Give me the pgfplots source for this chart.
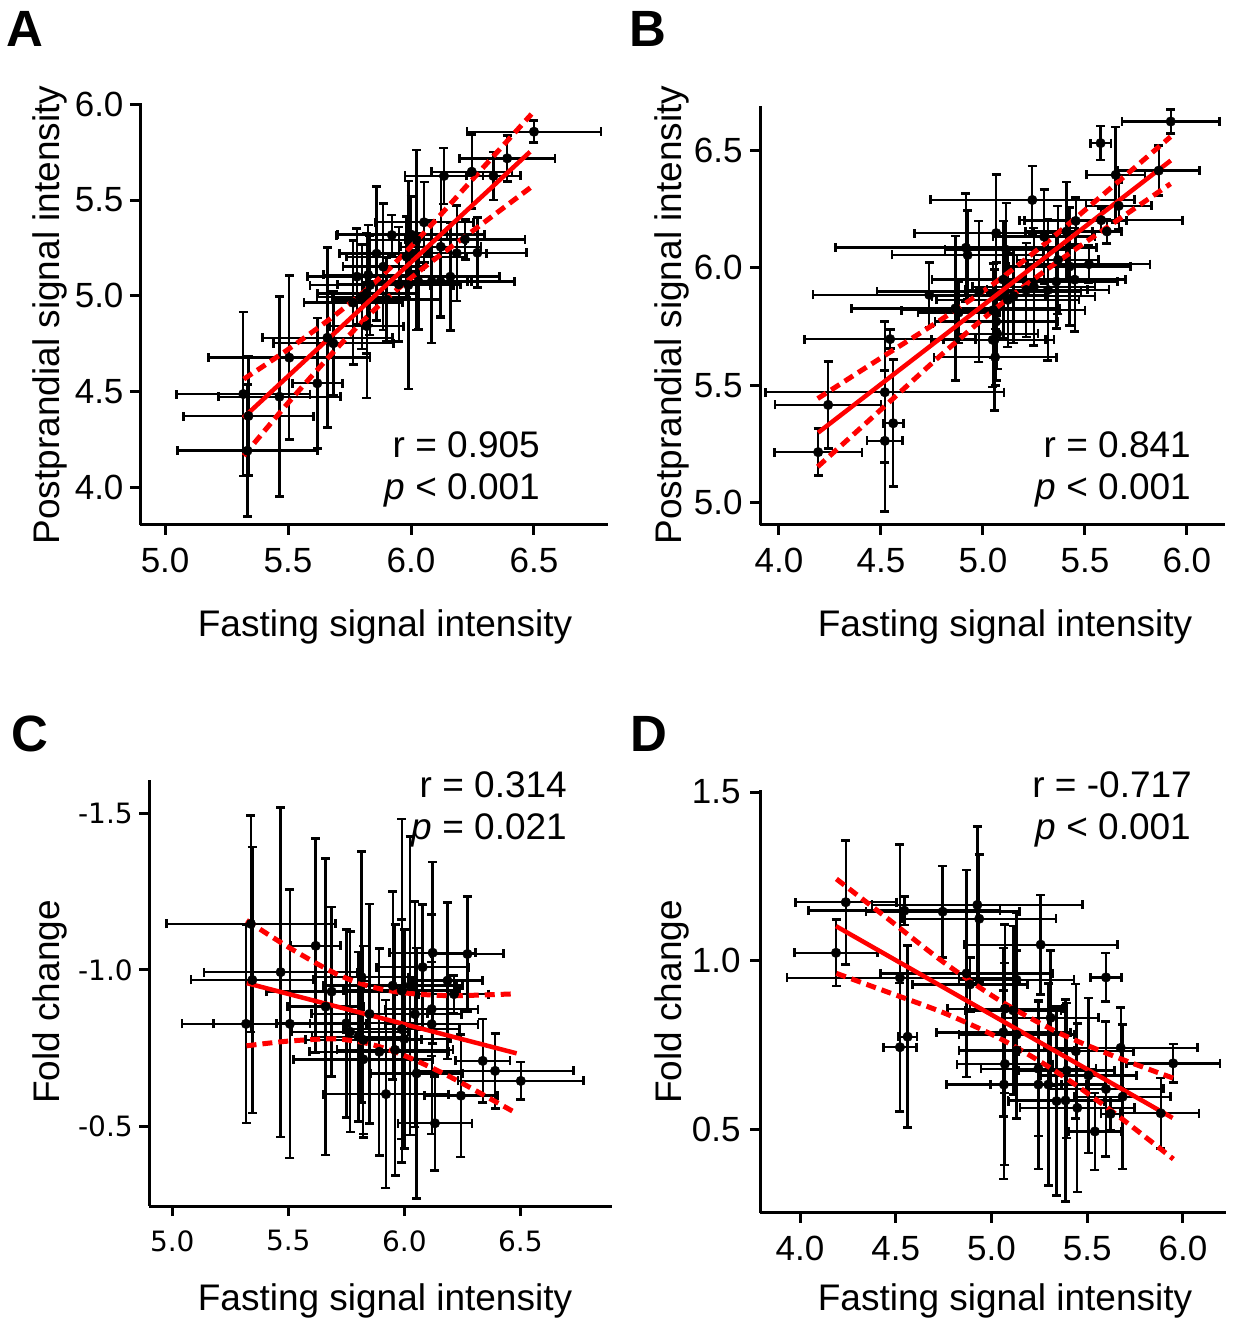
\documentclass[border=0pt]{standalone}
\usepackage{fontspec}
\setmainfont{Liberation Sans}
\newfontfamily\dejavu{DejaVu Sans}
\usepackage{pgfplots}
\usepackage{pgfplotstable}
\pgfplotsset{compat=1.18}

% panel A: fasting vs postprandial
\pgfplotstableread{
x y ex ey
5.318 4.487 0.272 0.428
5.465 4.473 0.248 0.522
5.339 4.372 0.264 0.310
5.335 4.191 0.285 0.345
5.505 4.677 0.329 0.428
5.619 4.543 0.102 0.340
5.660 4.781 0.264 0.470
5.684 4.752 0.244 0.272
5.765 4.964 0.200 0.324
5.800 4.995 0.183 0.272
5.820 5.013 0.200 0.313
5.826 5.109 0.183 0.261
5.820 4.842 0.150 0.376
6.500 5.857 0.272 0.057
6.391 5.718 0.195 0.120
6.247 5.648 0.163 0.193
6.335 5.626 0.110 0.125
6.134 5.626 0.159 0.146
6.053 5.384 0.200 0.210
5.922 5.317 0.224 0.104
6.023 5.291 0.200 0.470
6.121 5.256 0.163 0.370
6.220 5.295 0.244 0.104
6.186 5.222 0.122 0.250
6.270 5.225 0.200 0.183
5.887 5.152 0.163 0.330
5.982 5.204 0.244 0.210
6.030 5.074 0.200 0.250
6.084 5.074 0.163 0.320
6.120 5.074 0.300 0.180
5.989 5.056 0.183 0.543
5.833 5.056 0.244 0.260
5.950 5.060 0.250 0.300
5.780 5.100 0.200 0.250
5.900 4.980 0.220 0.220
6.000 5.320 0.300 0.200
5.860 5.220 0.150 0.350
6.160 5.100 0.200 0.280
}\dataA

% panel B
\pgfplotstableread{
x y ex ey
4.192 5.216 0.215 0.100
4.241 5.417 0.260 0.185
4.519 5.471 0.585 0.300
4.519 5.264 0.087 0.300
4.560 5.339 0.050 0.270
4.545 5.697 0.420 0.040
4.737 5.885 0.570 0.137
4.865 5.828 0.510 0.307
4.881 5.810 0.200 0.130
4.917 6.086 0.640 0.230
4.925 6.055 0.370 0.190
5.048 5.694 0.300 0.200
5.921 6.623 0.240 0.050
5.577 6.531 0.050 0.072
5.862 6.414 0.200 0.107
5.651 6.396 0.143 0.204
5.666 6.264 0.160 0.100
5.242 6.289 0.500 0.145
5.580 6.203 0.400 0.050
5.455 6.200 0.250 0.100
5.608 6.155 0.070 0.050
5.410 6.155 0.200 0.210
5.300 6.133 0.250 0.200
5.520 6.016 0.300 0.080
5.425 6.006 0.300 0.250
5.368 6.034 0.200 0.230
5.360 5.942 0.300 0.200
5.319 5.906 0.300 0.300
5.212 5.906 0.300 0.200
5.122 5.864 0.350 0.200
5.065 5.772 0.300 0.250
5.057 5.694 0.250 0.300
5.114 6.077 0.300 0.200
5.065 6.148 0.400 0.250
5.060 5.620 0.300 0.120
5.070 5.720 0.200 0.150
5.050 5.820 0.450 0.200
5.100 5.950 0.350 0.250
5.150 5.880 0.400 0.200
5.250 5.920 0.300 0.250
4.980 5.900 0.500 0.300
5.450 5.950 0.250 0.220
}\dataB

% panel C (fold change, axis reversed)
\pgfplotstableread{
x y ex ey
5.339 -1.147 0.364 0.345
5.345 -0.968 0.264 0.424
5.318 -0.828 0.276 0.316
5.467 -0.993 0.330 0.526
5.507 -0.828 0.330 0.428
5.618 -1.077 0.108 0.342
5.687 -0.931 0.280 0.270
5.661 -0.883 0.165 0.473
5.816 -0.977 0.200 0.400
5.766 -0.803 0.250 0.320
5.802 -0.787 0.200 0.270
5.823 -0.777 0.250 0.300
5.823 -0.715 0.300 0.250
5.892 -0.739 0.300 0.330
5.921 -0.604 0.270 0.300
6.122 -1.055 0.185 0.290
6.272 -1.051 0.155 0.183
6.079 -1.009 0.200 0.200
6.186 -0.966 0.150 0.250
6.214 -0.923 0.150 0.060
6.025 -0.949 0.200 0.476
5.989 -0.934 0.250 0.548
6.118 -0.875 0.200 0.150
6.046 -0.859 0.200 0.360
6.118 -0.827 0.200 0.350
5.989 -0.811 0.250 0.350
5.960 -0.745 0.250 0.400
6.338 -0.710 0.117 0.133
6.391 -0.678 0.337 0.120
6.502 -0.646 0.270 0.060
6.053 -0.670 0.200 0.400
6.244 -0.599 0.158 0.196
6.132 -0.511 0.160 0.150
5.750 -0.830 0.300 0.300
5.850 -0.860 0.250 0.350
5.950 -0.950 0.300 0.300
6.000 -0.780 0.200 0.350
}\dataC

% panel D
\pgfplotstableread{
x y ex ey
4.239 1.173 0.264 0.184
4.188 1.023 0.217 0.098
4.545 1.148 0.500 0.042
4.522 0.949 0.590 0.395
4.562 0.774 0.048 0.270
4.522 0.743 0.085 0.190
4.745 1.145 0.400 0.136
4.926 1.165 0.550 0.233
4.936 1.124 0.400 0.190
4.870 0.962 0.450 0.307
4.888 0.929 0.300 0.080
5.257 1.047 0.400 0.147
5.598 0.950 0.080 0.072
5.131 0.943 0.300 0.200
5.070 0.857 0.300 0.250
5.114 0.852 0.250 0.250
5.309 0.830 0.250 0.200
5.675 0.741 0.400 0.120
5.949 0.695 0.245 0.057
5.506 0.659 0.250 0.230
5.598 0.619 0.300 0.200
5.685 0.596 0.250 0.214
5.884 0.547 0.200 0.105
5.622 0.545 0.050 0.050
5.540 0.493 0.138 0.114
5.448 0.563 0.300 0.250
5.387 0.585 0.300 0.300
5.340 0.583 0.250 0.280
5.297 0.632 0.300 0.300
5.245 0.632 0.250 0.250
5.245 0.679 0.300 0.200
5.441 0.731 0.300 0.200
5.393 0.674 0.250 0.200
5.065 0.632 0.300 0.280
5.062 0.787 0.350 0.250
5.131 0.733 0.300 0.200
5.070 0.693 0.250 0.300
5.131 0.780 0.300 0.250
}\dataD

\pgfplotsset{
  panel/.style={
    scale only axis, anchor=south west,
    axis x line*=bottom, axis y line*=left,
    axis line style={line width=3pt, -},
    tick align=outside, major tick length=10pt,
    tick style={line width=3pt, black},
    ticklabel style={font=\fontsize{35}{40}\selectfont},
    xticklabel style={yshift=-10pt},
    yticklabel style={xshift=-6pt},
  },
  pts/.style={only marks, black, mark=*, mark size=4.8pt,
    mark options={fill=black, draw=black},
    error bars/.cd, x dir=both, x explicit, y dir=both, y explicit,
    error bar style={line width=2.4pt, black},
    error mark options={rotate=90, line width=2.6pt, mark size=4.5pt, black}},
  fit/.style={red, line width=4.5pt, no marks},
  band/.style={red, line width=5pt, dash pattern=on 10pt off 6pt, no marks, smooth},
}

\begin{document}
\begin{tikzpicture}[x=1pt, y=1pt]
\useasboundingbox (0,0) rectangle (1235,1322);

% ---------- A ----------
\begin{axis}[panel, at={(140pt,797pt)}, width=468pt, height=422pt,
  xmin=4.898, xmax=6.801, ymin=3.803, ymax=6.007,
  xtick={5,5.5,6,6.5}, xticklabels={5.0,5.5,6.0,6.5},
  ytick={4,4.5,5,5.5,6}, yticklabels={4.0,4.5,5.0,5.5,6.0},
  yticklabel style={xshift=3pt}]
\addplot[pts] table[x=x, y=y, x error=ex, y error=ey] {\dataA};
\addplot[fit] coordinates {(5.318,4.363) (6.484,5.752)};
\addplot[band] coordinates {(5.32,4.565)(5.5,4.72)(5.7,4.908)(5.87,5.09)(6.05,5.325)(6.25,5.608)(6.49,5.949)};
\addplot[band] coordinates {(5.32,4.165)(5.5,4.44)(5.7,4.728)(5.87,4.95)(6.05,5.145)(6.25,5.338)(6.49,5.569)};
\end{axis}

% ---------- B ----------
\begin{axis}[panel, at={(760pt,797pt)}, width=465pt, height=419pt,
  xmin=3.907, xmax=6.187, ymin=4.906, ymax=6.689,
  xtick={4,4.5,5,5.5,6}, xticklabels={4.0,4.5,5.0,5.5,6.0},
  ytick={5,5.5,6,6.5}, yticklabels={5.0,5.5,6.0,6.5},
  yticklabel style={xshift=2pt}]
\addplot[pts] table[x=x, y=y, x error=ex, y error=ey] {\dataB};
\addplot[fit] coordinates {(4.192,5.299) (5.921,6.457)};
\addplot[band] coordinates {(4.19,5.444)(4.5,5.617)(4.8,5.783)(5.08,5.95)(5.35,6.136)(5.65,6.357)(5.92,6.558)};
\addplot[band] coordinates {(4.19,5.154)(4.5,5.397)(4.8,5.633)(5.08,5.84)(5.35,6.016)(5.65,6.197)(5.92,6.358)};
\end{axis}

% ---------- C ----------
\begin{axis}[panel, at={(149.3pt,116pt)}, width=462.7pt, height=426pt,
  y dir=reverse,
  xmin=4.901, xmax=6.895, ymin=-1.606, ymax=-0.247,
  xtick={5,5.5,6,6.5}, xticklabels={5.0,5.5,6.0,6.5},
  ytick={-1.5,-1,-0.5}, yticklabels={-1.5,-1.0,-0.5},
  ticklabel style={font=\dejavu\fontsize{28}{34}\selectfont},
  xticklabel style={yshift=-1pt}, yticklabel style={xshift=3pt}]
\addplot[pts] table[x=x, y=y, x error=ex, y error=ey] {\dataC};
\addplot[fit] coordinates {(5.321,-0.958) (6.484,-0.734)};
\addplot[band] coordinates {(5.32,-1.158)(5.5,-1.073)(5.7,-0.99)(5.85,-0.948)(6.0,-0.927)(6.2,-0.918)(6.48,-0.924)};
\addplot[band] coordinates {(5.32,-0.758)(5.5,-0.773)(5.7,-0.78)(5.85,-0.764)(6.0,-0.727)(6.2,-0.658)(6.48,-0.544)};
\end{axis}

% ---------- D ----------
\begin{axis}[panel, at={(760pt,109pt)}, width=466pt, height=423pt,
  xmin=3.791, xmax=6.225, ymin=0.251, ymax=1.506,
  xtick={4,4.5,5,5.5,6}, xticklabels={4.0,4.5,5.0,5.5,6.0},
  ytick={0.5,1,1.5}, yticklabels={0.5,1.0,1.5}]
\addplot[pts] table[x=x, y=y, x error=ex, y error=ey] {\dataD};
\addplot[fit] coordinates {(4.188,1.102) (5.946,0.533)};
\addplot[band] coordinates {(4.19,1.242)(4.45,1.128)(4.75,0.995)(5.05,0.879)(5.35,0.786)(5.65,0.714)(5.95,0.651)};
\addplot[band] coordinates {(4.19,0.962)(4.45,0.908)(4.75,0.845)(5.05,0.767)(5.35,0.666)(5.65,0.544)(5.95,0.411)};
\end{axis}

% panel letters
\begin{scope}[every node/.style={inner sep=0, anchor=base west, font=\bfseries\fontsize{51}{51}\selectfont}]
\node at (6,1275) {A};
\node at (629,1275) {B};
\node at (11,570) {C};
\node at (630,570) {D};
\end{scope}

% axis titles
\begin{scope}[every node/.style={inner sep=0, anchor=base, font=\fontsize{37}{44}\selectfont}]
\node at (385,685) {Fasting signal intensity};
\node at (1005,685) {Fasting signal intensity};
\node at (385,11) {Fasting signal intensity};
\node at (1005,11) {Fasting signal intensity};
\node[rotate=90] at (59,1007) {Postprandial signal intensity};
\node[rotate=90] at (681,1007) {Postprandial signal intensity};
\node[rotate=90] at (59,320) {Fold change};
\node[rotate=90] at (681,320) {Fold change};
\end{scope}

% statistics
\begin{scope}[every node/.style={inner sep=0, anchor=base east, font=\fontsize{37}{44}\selectfont}]
\node at (540,864) {r = 0.905};
\node at (540,822) {\textit{p} < 0.001};
\node at (1191,864) {r = 0.841};
\node at (1191,822) {\textit{p} < 0.001};
\node at (567,524) {r = 0.314};
\node at (567,482) {\textit{p} = 0.021};
\node at (1192,524) {r = -0.717};
\node at (1191,482) {\textit{p} < 0.001};
\end{scope}
\end{tikzpicture}
\end{document}
